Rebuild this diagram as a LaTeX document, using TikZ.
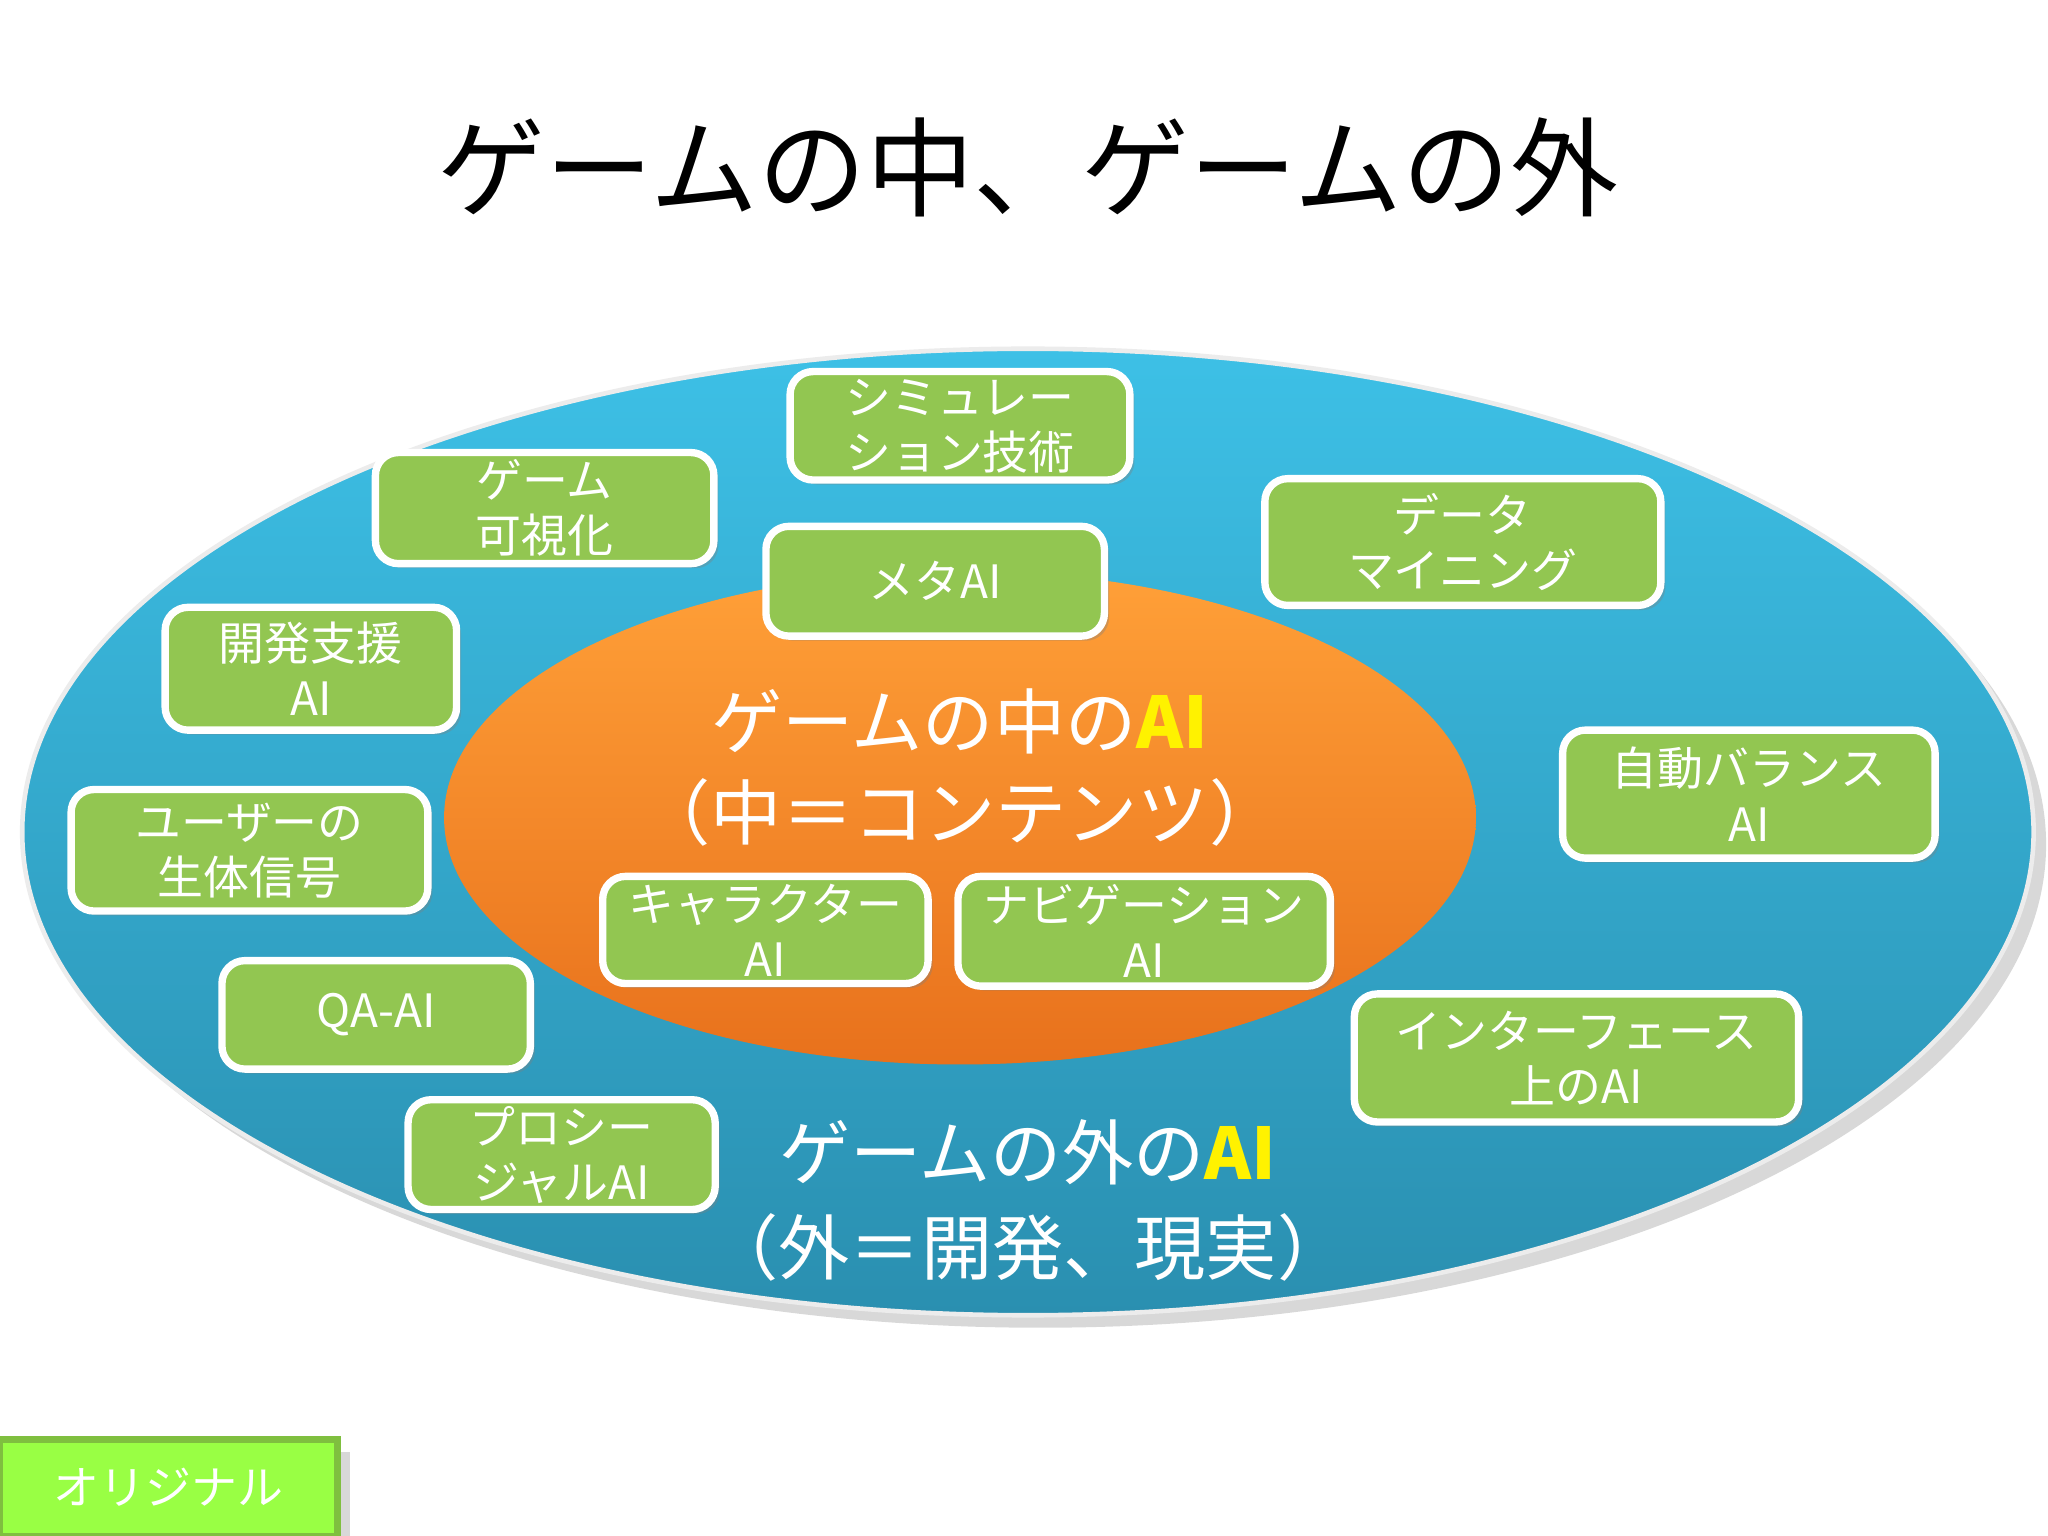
\documentclass[tikz,border=0pt]{standalone}
\usepackage{fontspec}
\setmainfont{Noto Sans CJK JP}
\usetikzlibrary{shadows}
\definecolor{bgreen}{HTML}{92C651}
\definecolor{ogreen}{HTML}{99FF44}
\definecolor{ogreenb}{HTML}{7FBF3F}
\definecolor{outtop}{HTML}{3DC0E6}
\definecolor{outbot}{HTML}{2A8FB0}
\definecolor{intop}{HTML}{FFA038}
\definecolor{inbot}{HTML}{E8711C}
\tikzset{
 gbox/.style={draw=white,line width=1.6pt,fill=bgreen,rounded corners=5pt,text=white,
   align=center,inner sep=0pt,font=\fontsize{10}{12}\selectfont,
   drop shadow={opacity=0.35,shadow xshift=1pt,shadow yshift=-1pt}},
 ctext/.style={text=white,font=\fontsize{15.5}{18}\selectfont}
}
\begin{document}
\begin{tikzpicture}[x=0.01cm,y=-0.01cm]
\useasboundingbox (0,0) rectangle (1568,1176);
\fill[white] (0,0) rectangle (1568,1176);
\node[font=\fontsize{23.5}{26}\selectfont] (title) at (787,128) {ゲームの中、ゲームの外};
\shade[top color=outtop,bottom color=outbot,draw=white!85!gray,line width=1pt,
  drop shadow={opacity=0.3}] (787,637) ellipse [x radius=770,y radius=370];
\shade[top color=intop,bottom color=inbot] (735,626) ellipse [x radius=395,y radius=189];
\node[ctext] (in1) at (735,552) {ゲームの中の\textcolor{yellow}{\textbf{AI}}};
\node[ctext] (in2) at (735,622) {（中＝コンテンツ）};
\node[ctext] (out1) at (787,882) {ゲームの外の\textcolor{yellow}{\textbf{AI}}};
\node[ctext] (out2) at (787,955) {（外＝開発、現実）};
\node[gbox,minimum width=2.60cm,minimum height=0.83cm] (sim) at (735,326) {シミュレー\\ション技術};
\node[gbox,minimum width=2.59cm,minimum height=0.85cm] (vis) at (417,389) {ゲーム\\可視化};
\node[gbox,minimum width=2.59cm,minimum height=0.84cm] (meta) at (716,445) {メタAI};
\node[gbox,minimum width=3.03cm,minimum height=0.97cm] (dm) at (1120,415) {データ\\マイニング};
\node[gbox,minimum width=2.23cm,minimum height=0.94cm] (dev) at (238,512) {開発支援\\AI};
\node[gbox,minimum width=2.85cm,minimum height=0.98cm] (bal) at (1339,608) {自動バランス\\AI};
\node[gbox,minimum width=2.73cm,minimum height=0.93cm] (bio) at (191,651) {ユーザーの\\生体信号};
\node[gbox,minimum width=2.49cm,minimum height=0.82cm] (chr) at (586,712) {キャラクター\\AI};
\node[gbox,minimum width=2.85cm,minimum height=0.84cm] (nav) at (876,713) {ナビゲーション\\AI};
\node[gbox,minimum width=2.36cm,minimum height=0.83cm] (qa) at (288,777) {QA-AI};
\node[gbox,minimum width=3.40cm,minimum height=0.98cm] (ui) at (1207,810) {インターフェース\\上のAI};
\node[gbox,minimum width=2.35cm,minimum height=0.84cm] (pro) at (430,884) {プロシー\\ジャルAI};
\node[draw=ogreenb,line width=1.5pt,fill=ogreen,text=white,
  minimum width=2.59cm,minimum height=0.74cm,inner sep=0pt,font=\fontsize{10}{12}\selectfont,
  drop shadow={opacity=0.3}] (orig) at (129,1139) {オリジナル};
\end{tikzpicture}
\end{document}
